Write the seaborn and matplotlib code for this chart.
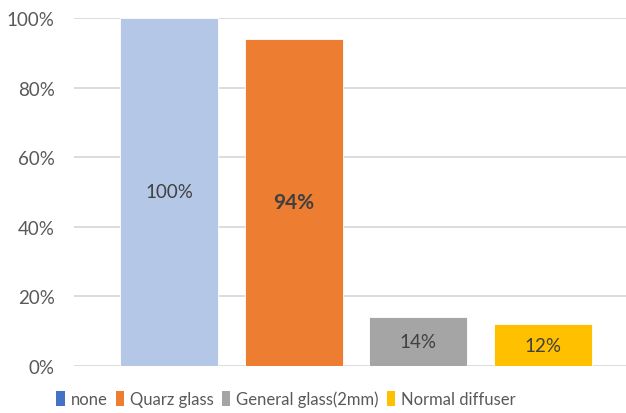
import matplotlib
matplotlib.use("Agg")
import matplotlib.pyplot as plt
from matplotlib.patches import Patch
from matplotlib.ticker import PercentFormatter
import seaborn as sns
import pandas as pd

# Transmittance of each diffuser material relative to no cover
materials = ["none", "Quarz glass", "General glass(2mm)", "Normal diffuser"]
transmittance = [1.00, 0.94, 0.14, 0.12]
value_labels = ["100%", "94%", "14%", "12%"]
bar_colors = ["#B4C7E7", "#ED7D31", "#A5A5A5", "#FFC000"]
legend_colors = ["#4472C4", "#ED7D31", "#A5A5A5", "#FFC000"]

sns.set_theme(style="white")
plt.rcParams["font.family"] = ["Lato", "DejaVu Sans"]

df = pd.DataFrame({"material": materials, "transmittance": transmittance})

fig = plt.figure(figsize=(6.26, 4.14), dpi=100)
ax = fig.add_axes([74 / 626, 47 / 414, 552 / 626, 348 / 414])

sns.barplot(data=df, x="material", y="transmittance", hue="material",
            palette=bar_colors, saturation=1, width=0.786, legend=False,
            ax=ax, edgecolor="white", linewidth=0.6, zorder=3)

ax.set_xlim(-0.762, 3.665)
ax.set_ylim(0, 1.0)
ax.set_yticks([0, 0.2, 0.4, 0.6, 0.8, 1.0])
ax.yaxis.set_major_formatter(PercentFormatter(1.0, decimals=0))
ax.grid(axis="y", color="#D9D9D9", linewidth=1.3, zorder=0)
ax.grid(axis="x", visible=False)
for s in ax.spines.values():
    s.set_visible(False)
ax.set_xticks([])
ax.set_xlabel("")
ax.set_ylabel("")
ax.tick_params(axis="y", length=0, pad=14, labelsize=13.5, labelcolor="#595959")
for t in ax.get_yticklabels():
    t.set_clip_on(False)

for bar, lab in zip(ax.patches, value_labels):
    cx = bar.get_x() + bar.get_width() / 2
    cy = bar.get_height() / 2
    bold = lab == "94%"
    ax.text(cx, cy, lab, ha="center", va="center",
            fontsize=15 if bold else 13.5,
            fontweight="bold" if bold else "normal",
            color="#404040", zorder=4)

handles = [Patch(facecolor=c, edgecolor="none") for c in legend_colors]
fig.legend(handles, materials, loc="center", bbox_to_anchor=(286 / 626, 1 - 400 / 414),
           ncol=4, frameon=False, fontsize=12, labelcolor="#595959",
           handlelength=0.5, handleheight=1.05, handletextpad=0.35,
           columnspacing=0.5, borderaxespad=0, borderpad=0)

fig.savefig("out.png", dpi=100)
